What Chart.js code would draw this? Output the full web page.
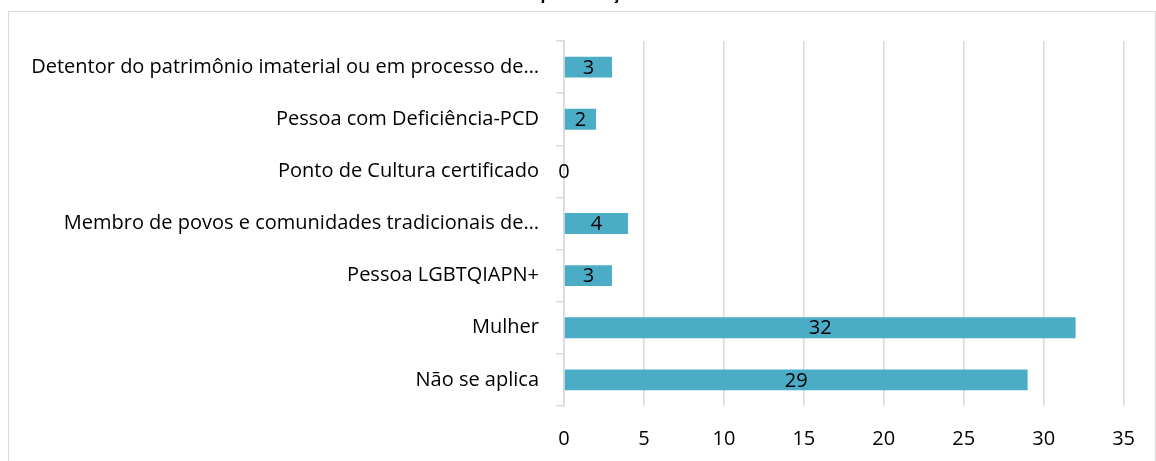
<!DOCTYPE html>
<html>
<head>
<meta charset="utf-8">
<script src="https://cdn.jsdelivr.net/npm/chart.js@4"></script>
<style>
	body { margin: 0; background: #fff; }
	#wrap { position: relative; width: 1156px; height: 461px; overflow: hidden; }
	#frame {
		position: absolute; left: 8px; top: 11px;
		width: 1146px; height: 470px;
		border: 1px solid #d9d9d9;
	}
	#chart { position: absolute; left: 0; top: 0; }
</style>
</head>
<body>
<div id="wrap">
	<div id="frame"></div>
	<canvas id="chart" width="1156" height="461"></canvas>
</div>
<script>
const titleText = "Representação";

const categories = [
	"Detentor do patrimônio imaterial ou em processo de…",
	"Pessoa com Deficiência-PCD",
	"Ponto de Cultura certificado",
	"Membro de povos e comunidades tradicionais de…",
	"Pessoa LGBTQIAPN+",
	"Mulher",
	"Não se aplica",
];

const values = [3, 2, 0, 4, 3, 32, 29];

const xTicks = [0, 5, 10, 15, 20, 25, 30, 35];

const fontFamily = "'Open Sans', Lato, sans-serif";

// labels in the middle of each bar
const barLabels = {
	id: "barLabels",
	afterDatasetsDraw(chart) {
		const ctx = chart.ctx;
		const meta = chart.getDatasetMeta(0);
		ctx.save();
		ctx.font = "20px " + fontFamily;
		ctx.fillStyle = "#000";
		ctx.textAlign = "center";
		ctx.textBaseline = "middle";
		meta.data.forEach(function (bar, i) {
			const x = (bar.x + bar.base) / 2;
			ctx.fillText(String(values[i]), x, bar.y + 1);
		});
		ctx.restore();
	},
};

// title sits above the picture, only the bottom of it shows
const cutTitle = {
	id: "cutTitle",
	afterDraw(chart) {
		const ctx = chart.ctx;
		ctx.save();
		ctx.font = "bold 16px " + fontFamily;
		ctx.fillStyle = "#000";
		ctx.textAlign = "center";
		ctx.textBaseline = "alphabetic";
		ctx.fillText(titleText, 580, -1);
		ctx.restore();
	},
};

const config = {
	type: "bar",
	data: {
		labels: categories,
		datasets: [
			{
				label: "Total",
				data: values,
				backgroundColor: "#4bacc6",
				borderWidth: 0,
				categoryPercentage: 1,
				barPercentage: 0.4,
			},
		],
	},
	options: {
		indexAxis: "y",
		responsive: false,
		animation: false,
		layout: {
			padding: { left: 0, right: 27, top: 41, bottom: 0 },
		},
		scales: {
			x: {
				min: 0,
				max: 35,
				afterBuildTicks: function (scale) {
					scale.ticks = xTicks.map(function (v) { return { value: v }; });
				},
				afterFit: function (scale) {
					scale.height = 55;
				},
				grid: {
					color: "#d9d9d9",
					lineWidth: 1.5,
					drawTicks: false,
				},
				border: { display: false },
				ticks: {
					color: "#000",
					padding: 21,
					font: { family: fontFamily, size: 20 },
				},
			},
			y: {
				afterFit: function (scale) {
					scale.width = 564;
				},
				grid: {
					drawOnChartArea: false,
					color: "#d9d9d9",
					lineWidth: 1.5,
					tickLength: 8,
				},
				border: { color: "#d9d9d9", width: 1.5 },
				ticks: {
					color: "#000",
					padding: 17,
					autoSkip: false,
					font: { family: fontFamily, size: 20 },
				},
			},
		},
		plugins: {
			legend: { display: false },
			tooltip: { enabled: false },
		},
	},
	plugins: [barLabels, cutTitle],
};

const ctx = document.getElementById("chart").getContext("2d");
new Chart(ctx, config);
</script>
</body>
</html>
